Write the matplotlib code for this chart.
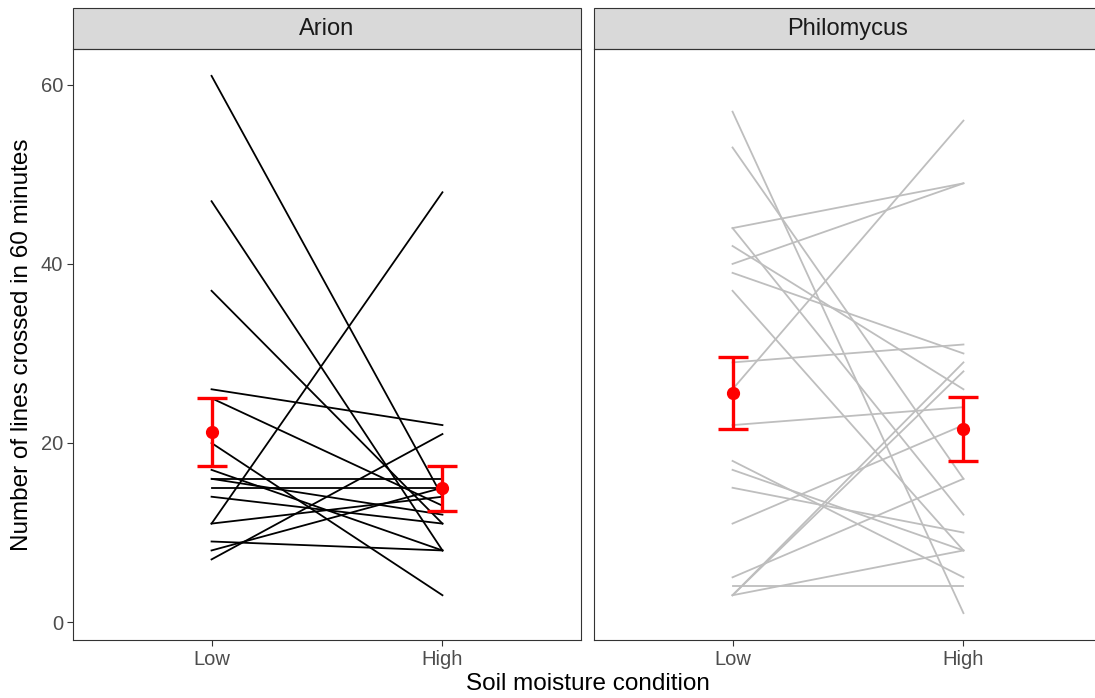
import numpy as np
import matplotlib
matplotlib.use("Agg")
import matplotlib.pyplot as plt
from matplotlib.patches import Rectangle

plt.rcParams['font.family'] = ['Liberation Sans', 'DejaVu Sans']

# === Data ===
conditions = ["Low", "High"]
species = ["Arion", "Philomycus"]

arion_low = [61, 47, 37, 26, 25, 20, 17, 16, 16, 15, 14, 11, 11, 9, 8, 7]
arion_high = [14, 8, 11, 22, 13, 3, 8, 16, 12, 15, 11, 48, 14, 8, 15, 21]

phil_low = [57, 53, 44, 44, 42, 40, 39, 37, 29, 26, 22, 18, 17, 15, 11, 5, 4, 3, 3, 3]
phil_high = [1, 16, 49, 12, 26, 49, 30, 8, 31, 56, 24, 5, 8, 10, 22, 16, 4, 8, 28, 29]

line_colors = ["black", "#BEBEBE"]

# === Figure layout (pixel-matched) ===
W, H = 1095, 698
fig = plt.figure(figsize=(W / 100, H / 100), dpi=100)

ax_w = 508 / W
ax_h = (640 - 49) / H
ax_b = (H - 640) / H
lefts = [73 / W, 594 / W]
strip_h = 41 / (640 - 49)

panels = [(arion_low, arion_high), (phil_low, phil_high)]
x = np.array([1, 2])

for i, (name, (lo, hi)) in enumerate(zip(species, panels)):
    ax = fig.add_axes([lefts[i], ax_b, ax_w, ax_h])
    lo = np.array(lo)
    hi = np.array(hi)

    # individual slugs
    for a, b in zip(lo, hi):
        ax.plot(x, [a, b], color=line_colors[i], lw=1.3, zorder=2)

    # mean +/- SE
    means = np.array([lo.mean(), hi.mean()])
    ses = np.array([lo.std(ddof=1), hi.std(ddof=1)]) / np.sqrt(len(lo))
    ax.errorbar(x, means, yerr=ses, fmt='o', color='red', ms=8.5,
                elinewidth=2.4, capsize=11, capthick=2.4, zorder=3)

    ax.set_xlim(0.4, 2.6)
    ax.set_ylim(-2, 64)
    ax.set_xticks(x)
    ax.set_xticklabels(conditions)
    ax.set_yticks([0, 20, 40, 60])
    ax.tick_params(colors='#333333', labelcolor='#4D4D4D', labelsize=14.5,
                   length=4, width=0.8, pad=3)
    if i > 0:
        ax.tick_params(axis='y', left=False, labelleft=False)
    for sp in ax.spines.values():
        sp.set_color('#333333')
        sp.set_linewidth(0.8)

    # facet strip
    ax.add_patch(Rectangle((0, 1), 1, strip_h, transform=ax.transAxes,
                           facecolor='#D9D9D9', edgecolor='#333333',
                           lw=0.8, clip_on=False))
    ax.text(0.5, 1 + strip_h / 2, name, transform=ax.transAxes,
            ha='center', va='center', fontsize=17, color='#1A1A1A')

    if i == 0:
        ax.set_ylabel("Number of lines crossed in 60 minutes", fontsize=17.5,
                      labelpad=6)

fig.text(588 / W, 3 / H, "Soil moisture condition", ha='center',
         va='bottom', fontsize=17.5)

fig.savefig("out.png", dpi=100)
